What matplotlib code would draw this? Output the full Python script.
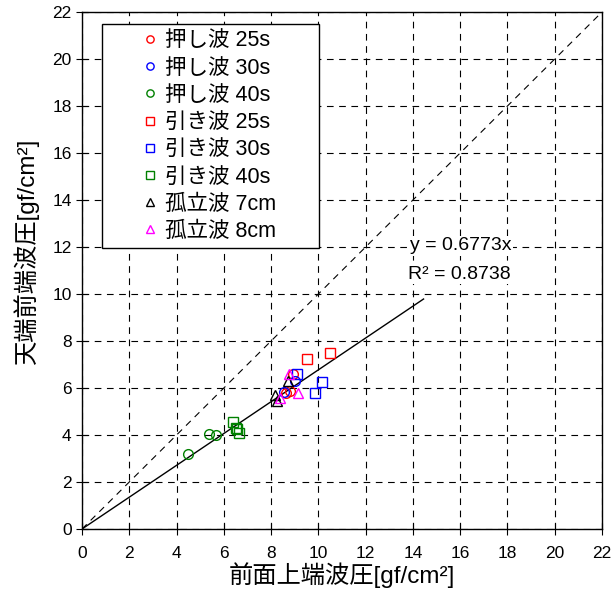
import matplotlib
matplotlib.use('Agg')
import numpy as np
import matplotlib.pyplot as plt

plt.rcParams['font.family'] = ['Liberation Sans', 'Noto Sans CJK JP', 'DejaVu Sans']

# series: (label, marker, color, x, y)
push25_x = [8.65, 8.8, 8.93]
push25_y = [5.8, 5.87, 6.6]
push30_x = [8.54, 9.0]
push30_y = [5.83, 6.3]
push40_x = [4.47, 5.37, 5.65]
push40_y = [3.2, 4.05, 4.0]
pull25_x = [9.5, 10.5]
pull25_y = [7.22, 7.48]
pull30_x = [9.1, 10.15, 9.85]
pull30_y = [6.6, 6.25, 5.8]
pull40_x = [6.4, 6.5, 6.55, 6.65]
pull40_y = [4.55, 4.3, 4.25, 4.1]
sol7_x = [8.23, 8.72, 8.16]
sol7_y = [5.44, 6.3, 5.72]
sol8_x = [9.12, 8.77, 8.37]
sol8_y = [5.8, 6.58, 5.58]

series = [
    ('押し波 25s', 'o', 'red', push25_x, push25_y),
    ('押し波 30s', 'o', 'blue', push30_x, push30_y),
    ('押し波 40s', 'o', 'green', push40_x, push40_y),
    ('引き波 25s', 's', 'red', pull25_x, pull25_y),
    ('引き波 30s', 's', 'blue', pull30_x, pull30_y),
    ('引き波 40s', 's', 'green', pull40_x, pull40_y),
    ('孤立波 7cm', '^', 'black', sol7_x, sol7_y),
    ('孤立波 8cm', '^', 'magenta', sol8_x, sol8_y),
]

slope = 0.6773
r2 = 0.8738
fit_x = [0, 14.45]

fig = plt.figure(figsize=(6.15, 6.08), dpi=100)
ax = fig.add_axes([0.1333, 0.1299, 0.8456, 0.8504])

ax.plot([0, 22], [0, 22], color='black', linestyle=(0, (6, 5)), linewidth=0.8)
ax.plot(fit_x, [slope * v for v in fit_x], color='black', linewidth=1.0)

for label, marker, color, xs, ys in series:
    ax.plot(xs, ys, linestyle='none', marker=marker, markersize=7,
            markerfacecolor='none', markeredgecolor=color, markeredgewidth=1.0,
            label=label)

ax.set_xlim(0, 22)
ax.set_ylim(0, 22)
ax.set_xticks(np.arange(0, 23, 2))
ax.set_yticks(np.arange(0, 23, 2))
ax.grid(True, color='black', linestyle=(0, (6, 5)), linewidth=0.8)
ax.tick_params(direction='inout', length=8, labelsize=12.5)
ax.tick_params(axis='x', pad=8)
for s in ax.spines.values():
    s.set_linewidth(1.0)

ax.set_xlabel('前面上端波圧[gf/cm²]', fontsize=17.5, labelpad=1)
ax.set_ylabel('天端前端波圧[gf/cm²]', fontsize=17.5)
ax.yaxis.set_label_coords(-0.083, 0.538)

ax.text(13.87, 12.05, 'y = %.4fx' % slope, fontsize=14, va='center',
        bbox=dict(facecolor='white', edgecolor='none', pad=1))
ax.text(13.8, 10.85, 'R² = %.4f' % r2, fontsize=14, va='center',
        bbox=dict(facecolor='white', edgecolor='none', pad=1))

leg = ax.legend(loc='upper left', bbox_to_anchor=(0.038, 0.5, 0.418, 0.477),
                mode='expand', fontsize=15.5,
                frameon=True, fancybox=False, edgecolor='black',
                markerscale=0.75, handlelength=3.85, handletextpad=-1.2,
                borderpad=0.3, labelspacing=0.29, borderaxespad=0)
leg.get_frame().set_linewidth(1.0)
leg.get_frame().set_alpha(1)

fig.savefig('out.png', dpi=100)
